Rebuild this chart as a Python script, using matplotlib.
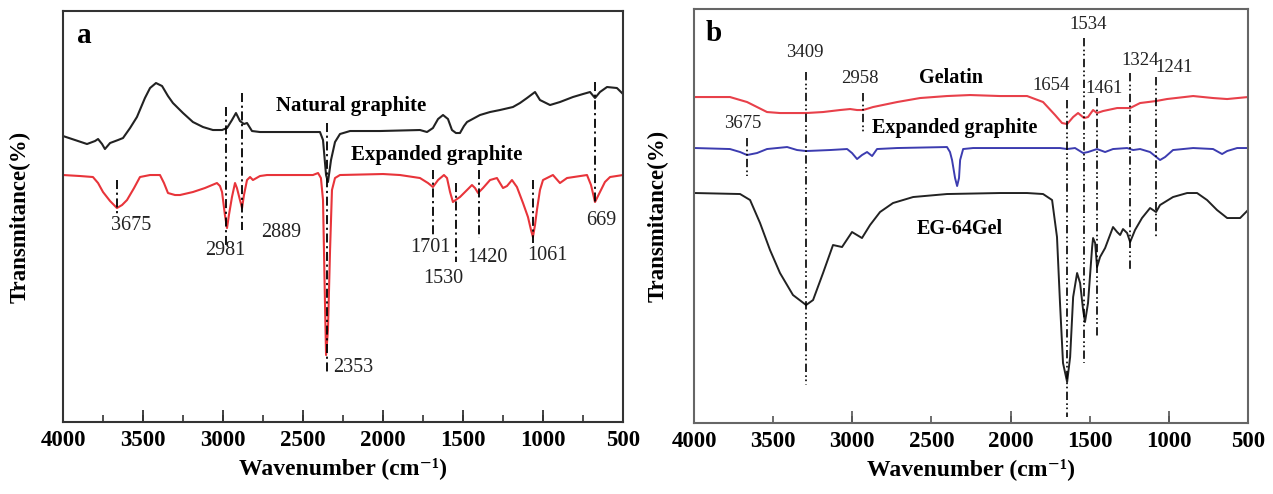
import matplotlib
matplotlib.use('Agg')
import matplotlib.pyplot as plt
from matplotlib.ticker import MultipleLocator

plt.rcParams['font.family'] = ['Liberation Serif', 'DejaVu Serif']

# ---- panel a data (wavenumber, arbitrary transmittance) ----
nat_wn = [4000, 3925, 3850, 3800, 3781, 3756, 3738, 3706, 3656, 3625, 3581, 3538, 3488, 3456,
          3419, 3381, 3344, 3313, 3250, 3188, 3125, 3063, 3006, 2975, 2944, 2919, 2894, 2869,
          2850, 2819, 2769, 2519, 2394, 2375, 2356, 2344, 2325, 2300, 2269, 2206, 2019, 1769,
          1725, 1688, 1656, 1625, 1594, 1569, 1544, 1519, 1494, 1475, 1394, 1331, 1269, 1188,
          1144, 1100, 1050, 1019, 956, 894, 813, 750, 706, 675, 644, 600, 538, 500]
nat_t = [286, 282, 278, 281, 283, 278, 273, 279, 282, 284, 294, 305, 324, 334,
         339, 336, 326, 319, 309, 300, 295, 292, 292, 294, 302, 309, 301, 298,
         299, 291, 290, 290, 290, 282, 247, 240, 262, 280, 288, 291, 291, 292,
         290, 294, 303, 307, 303, 292, 289, 289, 296, 300, 307, 310, 312, 315,
         319, 324, 330, 322, 317, 320, 325, 328, 330, 324, 330, 335, 334, 328]

exa_wn = [4000, 3894, 3813, 3781, 3750, 3706, 3663, 3631, 3600, 3556, 3519, 3456, 3394, 3369,
          3344, 3300, 3269, 3188, 3113, 3038, 3019, 3006, 2988, 2975, 2963, 2944, 2925, 2913,
          2894, 2881, 2869, 2850, 2831, 2813, 2769, 2725, 2438, 2406, 2388, 2375, 2363, 2356,
          2344, 2331, 2319, 2300, 2269, 2000, 1894, 1769, 1719, 1688, 1656, 1619, 1600, 1581,
          1563, 1538, 1519, 1475, 1444, 1425, 1406, 1375, 1331, 1288, 1250, 1225, 1194, 1163,
          1125, 1094, 1075, 1063, 1050, 1038, 1019, 1000, 938, 894, 850, 725, 700, 675, 644,
          613, 581, 500]
exa_t = [247, 246, 245, 239, 230, 221, 214, 217, 222, 234, 245, 247, 247, 239,
         229, 227, 227, 230, 234, 239, 236, 230, 207, 194, 207, 225, 239, 234,
         222, 214, 227, 242, 245, 242, 246, 247, 247, 249, 244, 222, 122, 67,
         92, 172, 232, 244, 247, 248, 247, 244, 239, 235, 242, 247, 244, 230,
         220, 223, 225, 232, 237, 234, 229, 234, 242, 244, 234, 236, 242, 235,
         219, 205, 192, 185, 197, 212, 232, 242, 247, 239, 244, 247, 237, 220, 230,
         240, 245, 247]

a_mark_wn = [3663, 2981, 2881, 2350, 1688, 1544, 1400, 1063, 675]
a_mark_top = [242, 315, 329, 299, 252, 239, 252, 242, 340]
a_mark_bot = [205, 177, 192, 50, 187, 160, 184, 179, 219]

a_lab_text = ['3675', '2981', '2889', '2353', '1701', '1530', '1420', '1061', '669']
a_lab_wn = [3575, 2988, 2638, 2188, 1706, 1625, 1350, 975, 638]
a_lab_t = [197, 172, 190, 55, 175, 144, 165, 167, 202]

# ---- panel b data ----
gel_wn = [3994, 3773, 3665, 3602, 3539, 3457, 3292, 3185, 3078, 3014, 2970, 2932, 2869, 2717,
          2572, 2402, 2256, 2067, 1896, 1795, 1719, 1675, 1643, 1605, 1574, 1536, 1511, 1479,
          1454, 1416, 1327, 1245, 1182, 1081, 1012, 847, 721, 632, 500]
gel_t = [325, 325, 320, 315, 310, 309, 309, 310, 312, 313, 312, 312, 315, 320,
         324, 326, 327, 326, 326, 320, 307, 299, 298, 305, 309, 304, 305, 312,
         309, 311, 314, 314, 319, 321, 323, 326, 324, 323, 325]

eg_wn = [3994, 3773, 3709, 3665, 3602, 3539, 3412, 3349, 3292, 3141, 3033, 3002, 2970, 2939,
         2907, 2875, 2844, 2717, 2402, 2383, 2370, 2351, 2338, 2326, 2319, 2300, 2237, 1688,
         1643, 1593, 1542, 1511, 1454, 1403, 1353, 1264, 1226, 1182, 1119, 1056, 1024, 974,
         847, 721, 664, 632, 569, 500]
eg_t = [274, 273, 270, 267, 269, 273, 275, 272, 271, 272, 273, 269, 263, 267,
        270, 266, 273, 274, 275, 270, 262, 244, 236, 244, 262, 273, 274, 274,
        273, 274, 269, 270, 273, 270, 273, 274, 272, 273, 270, 262, 265, 272,
        274, 273, 268, 271, 274, 274]

comp_wn = [3994, 3709, 3646, 3583, 3520, 3457, 3375, 3292, 3248, 3185, 3122, 3065, 3002, 2939,
           2888, 2825, 2743, 2616, 2402, 2067, 1896, 1795, 1738, 1707, 1688, 1669, 1643, 1624,
           1605, 1580, 1561, 1542, 1530, 1511, 1485, 1479, 1466, 1454, 1435, 1403, 1384, 1353,
           1327, 1308, 1290, 1264, 1245, 1214, 1170, 1119, 1081, 1056, 974, 885, 822, 759,
           696, 632, 550, 500]
comp_t = [229, 228, 222, 199, 172, 149, 127, 117, 122, 149, 177, 175, 190, 184,
          197, 210, 219, 225, 228, 229, 229, 228, 222, 185, 119, 59, 40, 65,
          125, 149, 139, 112, 100, 119, 175, 184, 179, 155, 165, 174, 182, 195,
          190, 187, 193, 189, 180, 192, 204, 214, 210, 217, 225, 229, 229, 222,
          212, 204, 204, 212]

b_mark_wn = [3665, 3292, 2932, 1643, 1536, 1454, 1245, 1081]
b_mark_top = [284, 350, 329, 322, 384, 324, 349, 345]
b_mark_bot = [246, 37, 290, 5, 59, 84, 152, 185]

b_lab_text = ['3675', '3409', '2958', '1654', '1534', '1461', '1324', '1241']
b_lab_wn = [3690, 3299, 2951, 1744, 1511, 1410, 1182, 967]
b_lab_t = [299, 370, 344, 337, 398, 334, 362, 355]

ticks = [4000, 3500, 3000, 2500, 2000, 1500, 1000, 500]

fig = plt.figure(figsize=(12.73, 4.94), dpi=100)
ax1 = fig.add_axes([0.0495, 0.1457, 0.4399, 0.832])
ax2 = fig.add_axes([0.5452, 0.1437, 0.4352, 0.838])

# panel a
ax1.plot(nat_wn, nat_t, color='#222222', lw=1.5)
ax1.plot(exa_wn, exa_t, color='#e8343a', lw=1.5)
for w, t0, t1 in zip(a_mark_wn, a_mark_top, a_mark_bot):
    ax1.plot([w, w], [t0, t1], color='black', lw=1.3, ls=(0, (5, 2, 1.2, 2)))
for s, w, t in zip(a_lab_text, a_lab_wn, a_lab_t):
    ax1.text(w, t, s, fontsize=14.5, ha='center', va='center', color='#222222')
ax1.text(2200, 316, 'Natural graphite', fontsize=15, fontweight='bold', ha='center', va='center')
ax1.text(1663, 267, 'Expanded graphite', fontsize=15, fontweight='bold', ha='center', va='center')
ax1.text(3869, 387, 'a', fontsize=21, fontweight='bold', ha='center', va='center')
ax1.set_ylim(0, 411)

# panel b
ax2.plot(gel_wn, gel_t, color='#e8404a', lw=1.5)
ax2.plot(eg_wn, eg_t, color='#3c3cb0', lw=1.4)
ax2.plot(comp_wn, comp_t, color='#222222', lw=1.4)
for w, t0, t1 in zip(b_mark_wn, b_mark_top, b_mark_bot):
    ax2.plot([w, w], [t0, t1], color='black', lw=1.2, ls=(0, (5, 2, 1, 1.5, 1, 2)))
for s, w, t in zip(b_lab_text, b_lab_wn, b_lab_t):
    ax2.text(w, t, s, fontsize=13.5, ha='center', va='center', color='#222222')
ax2.text(2376, 344, 'Gelatin', fontsize=14.5, fontweight='bold', ha='center', va='center')
ax2.text(2351, 294, 'Expanded graphite', fontsize=14.5, fontweight='bold', ha='center', va='center')
ax2.text(2319, 193, 'EG-64Gel', fontsize=14.5, fontweight='bold', ha='center', va='center')
ax2.text(3874, 389, 'b', fontsize=21, fontweight='bold', ha='center', va='center')
ax2.set_ylim(-1, 413)

for ax, col, lx in [(ax1, '#333333', -0.058), (ax2, '#666666', -0.046)]:
    ax.set_xlim(4000, 500)
    ax.set_xticks(ticks)
    ax.set_xticklabels([str(t) for t in ticks], fontweight='bold', fontsize=16.5)
    ax.set_yticks([])
    for sp in ax.spines.values():
        sp.set_color(col)
        sp.set_linewidth(1.5)
    ax.set_xlabel('Wavenumber (cm\u207b\u00b9)', fontsize=17, fontweight='bold', labelpad=4)
    ax.set_ylabel('Transmitance(%)', fontsize=16.5, fontweight='bold')
    ax.yaxis.set_label_coords(lx, 0.5)
    ax.xaxis.remove_overlapping_locs = False

ax1.xaxis.set_minor_locator(MultipleLocator(250))
ax1.tick_params(axis='x', which='major', direction='in', length=9, width=1.3, pad=6, color='#333333')
ax1.tick_params(axis='x', which='minor', direction='in', length=5, width=1.2, color='#333333')

ax2.xaxis.set_minor_locator(MultipleLocator(1000))
ax2.tick_params(axis='x', which='major', direction='in', length=5, width=1.2, pad=6, color='#555555')
ax2.tick_params(axis='x', which='minor', direction='in', length=9, width=1.2, color='#555555')

fig.savefig('out.png', dpi=100)
